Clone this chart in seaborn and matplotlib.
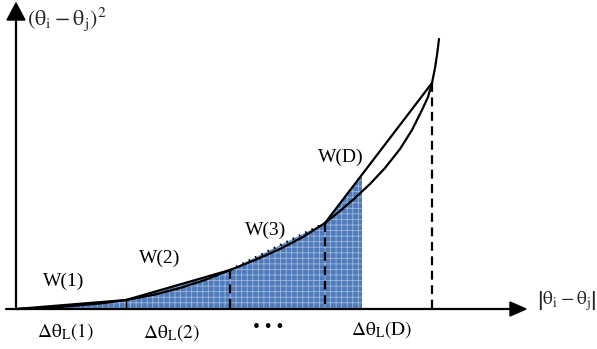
import matplotlib
matplotlib.use("Agg")
import matplotlib.pyplot as plt
import seaborn as sns
import pandas as pd

sns.set_theme(style="white")
plt.rcParams["font.family"] = ["Liberation Serif", "DejaVu Serif"]
plt.rcParams["mathtext.fontset"] = "stix"
plt.rcParams["hatch.linewidth"] = 0.6

# ---- data (pixel-like units: x right, y down) ----
curve_x = [16, 60, 100, 126, 155, 180, 205, 230, 255, 280, 303, 325, 340, 355, 370, 385, 400, 412, 422, 428, 432, 435, 437, 439]
curve_y = [309, 307, 303.5, 300, 294.5, 288, 280, 270, 260, 249, 237, 223, 211, 198, 184, 168, 149, 130, 110, 97, 83, 68, 55, 39]

knot_x = [16, 126, 230, 325, 432]
knot_y = [309, 300, 270, 223, 83]

shade_end_x = 362
labels_w = ["W(1)", "W(2)", "W(3)", "W(D)"]
labels_w_pos = [(64, 281), (160, 258), (266, 230), (341, 157)]
labels_dt = [r"$\mathrm{\Delta\theta_L(1)}$", r"$\mathrm{\Delta\theta_L(2)}$", "• • •", r"$\mathrm{\Delta\theta_L(D)}$"]
labels_dt_pos = [(66, 332), (172, 333), (268, 328), (382, 330)]

axis_y0 = 309
axis_x0 = 16

fig = plt.figure(figsize=(5.97, 3.49), dpi=100)
ax = fig.add_axes([0, 0, 1, 1])
ax.set_xlim(0, 597)
ax.set_ylim(349, 0)
ax.axis("off")

# shaded area under chord polyline up to shade_end_x
sx = knot_x[:4]
sy = knot_y[:4]
frac = (shade_end_x - knot_x[3]) / (knot_x[4] - knot_x[3])
end_y = knot_y[3] + frac * (knot_y[4] - knot_y[3])
poly_x = sx + [shade_end_x, shade_end_x]
poly_y = sy + [end_y, axis_y0]
ax.fill(poly_x, poly_y, facecolor="#4f7bba", edgecolor="#9db7dd", hatch="+++", linewidth=0, zorder=1)

# curve
cdf = pd.DataFrame({"x": curve_x, "y": curve_y})
sns.lineplot(data=cdf, x="x", y="y", sort=False, color="black", linewidth=1.6, ax=ax, zorder=4)

# chords
for i in range(4):
    seg = pd.DataFrame({"x": knot_x[i:i + 2], "y": knot_y[i:i + 2]})
    if i == 2:
        sns.lineplot(data=seg, x="x", y="y", sort=False, color="black", linewidth=1.8,
                     linestyle=(0, (0.6, 2.2)), ax=ax, zorder=4)
    else:
        sns.lineplot(data=seg, x="x", y="y", sort=False, color="black", linewidth=1.6, ax=ax, zorder=4)

# vertical lines at knots
ax.plot([knot_x[1], knot_x[1]], [knot_y[1], axis_y0], color="black", linewidth=1.0, zorder=3)
for i in (2, 3, 4):
    ax.plot([knot_x[i], knot_x[i]], [knot_y[i], axis_y0], color="black", linewidth=1.6,
            linestyle=(0, (4, 2.5)), zorder=3)

# axes with arrow heads
ax.plot([6, 512], [axis_y0, axis_y0], color="black", linewidth=1.6, zorder=5)
ax.plot([axis_x0, axis_x0], [307, 18], color="black", linewidth=1.6, zorder=5)
ax.fill([510, 526, 510], [302, 309, 316], color="black", zorder=5)
ax.fill([7, 16, 25], [20, 3, 20], color="black", zorder=5)

# texts
for t, (x, y) in zip(labels_w, labels_w_pos):
    ax.text(x, y, t, ha="center", va="center", fontsize=14, color="black")
for t, (x, y) in zip(labels_dt, labels_dt_pos):
    ax.text(x, y, t, ha="center", va="center", fontsize=14, color="black")

ax.text(27, 19, r"$\mathrm{(\theta_i-\theta_j)^2}$", ha="left", va="center", fontsize=16)
ax.text(537, 301, r"$\mathrm{\left|\theta_i-\theta_j\right|}$", ha="left", va="center", fontsize=14)

fig.savefig("out.png", dpi=100)
